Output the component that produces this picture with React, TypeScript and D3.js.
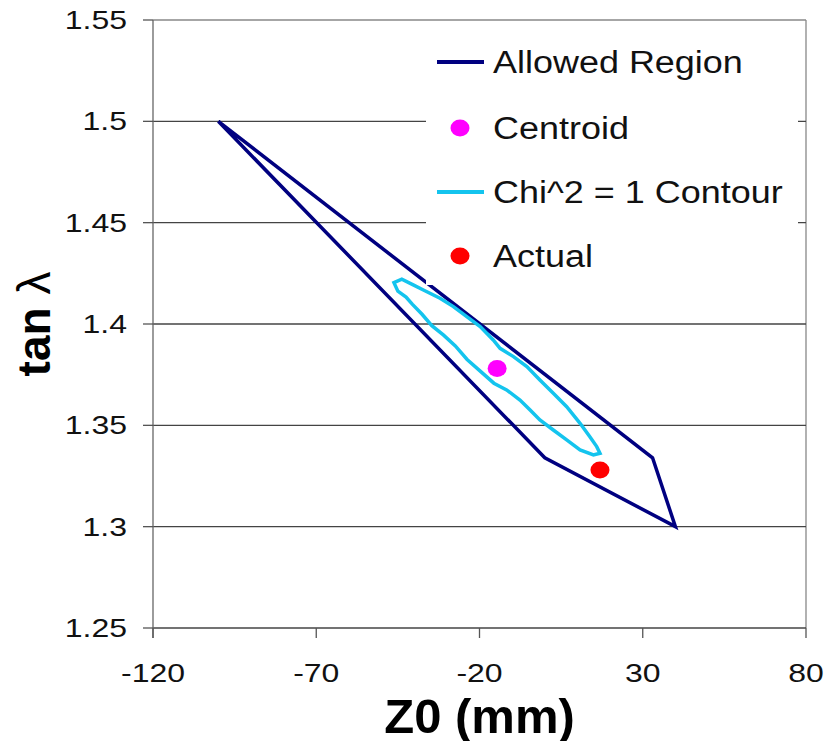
import * as d3 from "d3";

// axis ticks
const yTicks = [1.25, 1.3, 1.35, 1.4, 1.45, 1.5, 1.55];
const xTicks = [-120, -70, -20, 30, 80];

// allowed region polygon (Z0 mm, tan lambda)
const allowedZ0 = [-100, 33, 40, 0, -100];
const allowedTan = [1.5, 1.334, 1.3, 1.334, 1.5];

// chi^2 = 1 contour
const contourZ0 = [
  -46.2, -43.8, -40.3, -37.2, -32.1, -28.0, -23.9, -19.8, -15.8, -13.7, -9.6, -5.5, -1.5,
  2.6, 6.7, 10.8, 13.8, 15.9, 16.9, 14.9, 10.8, 6.7, 2.6, -1.5, -4.5, -7.6, -11.7, -15.6,
  -19.6, -23.8, -27.4, -31.0, -34.6, -37.6, -40.6, -42.5, -45.0, -46.2,
];
const contourTan = [
  1.4204, 1.4221, 1.4193, 1.4168, 1.4127, 1.4086, 1.4036, 1.3987, 1.3921, 1.388, 1.3839,
  1.379, 1.3724, 1.3658, 1.3592, 1.351, 1.3444, 1.3395, 1.3362, 1.3354, 1.3379, 1.3428,
  1.3477, 1.3527, 1.3576, 1.3625, 1.3675, 1.3708, 1.3765, 1.3825, 1.3892, 1.3945, 1.3992,
  1.4048, 1.4098, 1.4133, 1.4162, 1.4204,
];

const centroid = { z: -14.6, t: 1.378 };
const actual = { z: 16.9, t: 1.328 };

const legendLabels = ["Allowed Region", "Centroid", "Chi^2 = 1 Contour", "Actual"];

const NAVY = "#000080";
const CYAN = "#14c4ee";
const MAGENTA = "#ff00ff";
const RED = "#ff0000";
const FONT = "'Liberation Sans', Arial, sans-serif";

const W = 825;
const H = 741;
const left = 153;
const right = 806;
const top = 20;
const bottom = 628;

export default function App() {
  const x = d3.scaleLinear().domain([-120, 80]).range([left, right]);
  const y = d3.scaleLinear().domain([1.25, 1.55]).range([bottom, top]);

  const line = d3
    .line<number>()
    .x((_, i) => x(allowedZ0[i]))
    .y((d) => y(d));
  const contour = d3
    .line<number>()
    .x((_, i) => x(contourZ0[i]))
    .y((d) => y(d))
    .curve(d3.curveLinearClosed);

  const legX = 426;
  const legRows = [62, 128, 192, 256];

  return (
    <svg
      width={W}
      height={H}
      style={{ position: "absolute", left: 0, top: 0, background: "#fff" }}
      fontFamily={FONT}
    >
      {/* plot border */}
      <line x1={left} x2={right} y1={top} y2={top} stroke="#888" strokeWidth={1.3} />
      <line x1={right} x2={right} y1={top} y2={bottom} stroke="#888" strokeWidth={1.3} />

      {/* grid lines */}
      {yTicks.slice(0, -1).map((t) => (
        <line
          key={t}
          x1={left}
          x2={right}
          y1={y(t)}
          y2={y(t)}
          stroke="#444"
          strokeWidth={1.3}
        />
      ))}

      {/* y axis */}
      <line x1={left} x2={left} y1={top} y2={bottom + 10} stroke="#666" strokeWidth={1.3} />
      {yTicks.map((t) => (
        <g key={t}>
          <line x1={left - 10} x2={left} y1={y(t)} y2={y(t)} stroke="#555" strokeWidth={1.3} />
          <text
            transform={`translate(127,${y(t) + 9}) scale(1.28,1)`}
            textAnchor="end"
            fontSize={25}
            fill="#111"
          >
            {String(t)}
          </text>
        </g>
      ))}

      {/* x axis ticks */}
      {xTicks.map((t) => (
        <g key={t}>
          <line x1={x(t)} x2={x(t)} y1={bottom} y2={bottom + 10} stroke="#555" strokeWidth={1.3} />
          <text
            transform={`translate(${x(t)},682) scale(1.28,1)`}
            textAnchor="middle"
            fontSize={25}
            fill="#111"
          >
            {String(t)}
          </text>
        </g>
      ))}

      {/* axis titles */}
      <text x={(left + right) / 2} y={733} textAnchor="middle" fontSize={49} fontWeight="bold">
        Z0 (mm)
      </text>
      <text
        transform={`translate(50,${(top + bottom) / 2}) rotate(-90)`}
        textAnchor="middle"
        fontSize={46}
        fontWeight="bold"
      >
        tan <tspan fontWeight="normal">λ</tspan>
      </text>

      {/* data */}
      <path
        d={line(allowedTan) ?? ""}
        fill="none"
        stroke={NAVY}
        strokeWidth={3.5}
        strokeLinejoin="miter"
      />
      <ellipse cx={x(centroid.z)} cy={y(centroid.t)} rx={9.5} ry={8.5} fill={MAGENTA} />
      <path d={contour(contourTan) ?? ""} fill="none" stroke={CYAN} strokeWidth={3.5} />
      <ellipse cx={x(actual.z)} cy={y(actual.t)} rx={9.5} ry={8.5} fill={RED} />

      {/* legend */}
      <rect x={legX} y={30} width={372} height={255} fill="#fff" />
      {legendLabels.map((label, i) => {
        const cy = legRows[i];
        return (
          <g key={label}>
            {i === 0 || i === 2 ? (
              <line
                x1={437}
                x2={484}
                y1={cy}
                y2={cy}
                stroke={i === 0 ? NAVY : CYAN}
                strokeWidth={4}
              />
            ) : (
              <ellipse cx={460} cy={cy} rx={9.5} ry={8.5} fill={i === 1 ? MAGENTA : RED} />
            )}
            <text
              transform={`translate(493,${cy + 11}) scale(1.16,1)`}
              fontSize={31}
              fill="#111"
            >
              {label}
            </text>
          </g>
        );
      })}
    </svg>
  );
}
